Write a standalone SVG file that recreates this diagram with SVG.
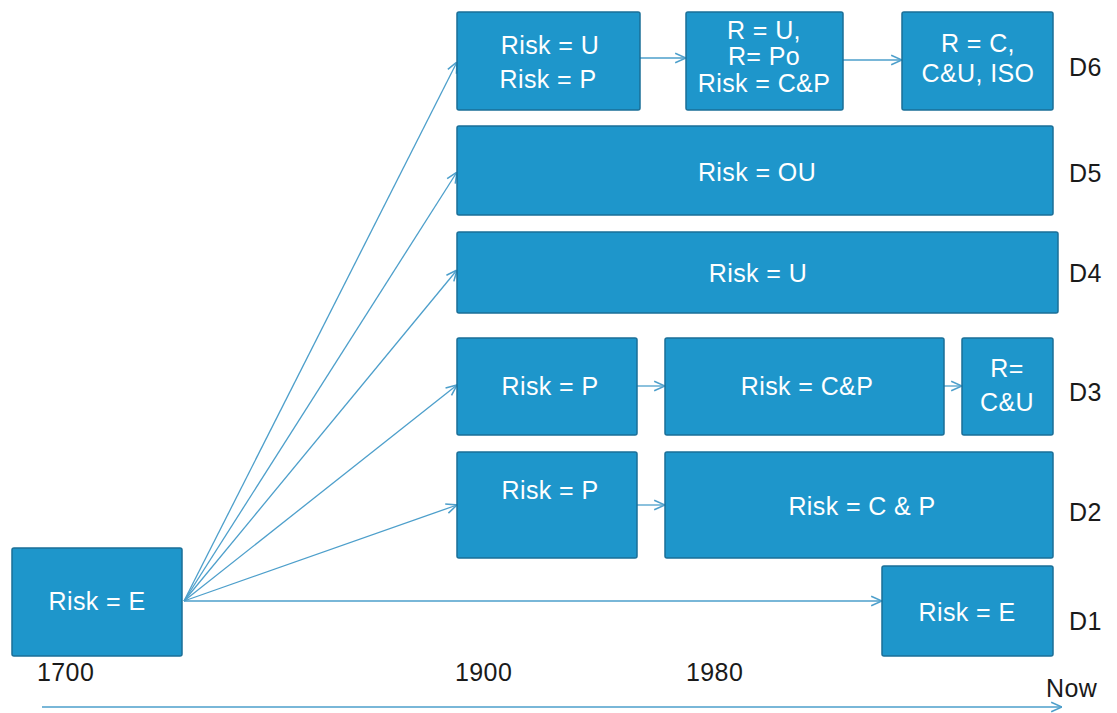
<svg xmlns="http://www.w3.org/2000/svg" width="1117" height="713" viewBox="0 0 1117 713">
<style>
.box{fill:#1e96cb;stroke:#1a6f98;stroke-width:1.5}
.t{font-family:"Liberation Sans",Arial,sans-serif;font-size:25px;fill:#ffffff;text-anchor:middle;letter-spacing:0.4px}
.l{font-family:"Liberation Sans",Arial,sans-serif;font-size:25px;fill:#1a1a1a;letter-spacing:0.4px}
.c{stroke:#4d9fcb;stroke-width:1.3;fill:none;marker-end:url(#ah)}
</style>
<defs>
<marker id="ah" viewBox="0 0 10 10" refX="10" refY="5" markerWidth="12" markerHeight="12" markerUnits="userSpaceOnUse" orient="auto">
<path d="M1,1 L10,5 L1,9" fill="none" stroke="#4d9fcb" stroke-width="1.3"/>
</marker>
</defs>
<rect width="1117" height="713" fill="#ffffff"/>
<g id="connectors">
<line class="c" x1="184" y1="601" x2="457" y2="62"/>
<line class="c" x1="184" y1="601" x2="457" y2="172"/>
<line class="c" x1="184" y1="601" x2="457" y2="270"/>
<line class="c" x1="184" y1="601" x2="457" y2="385"/>
<line class="c" x1="184" y1="601" x2="457" y2="505"/>
<line class="c" x1="184" y1="601" x2="882" y2="601"/>
<line class="c" x1="640" y1="58" x2="686" y2="58"/>
<line class="c" x1="843" y1="60" x2="902" y2="60"/>
<line class="c" x1="637" y1="386" x2="665" y2="386"/>
<line class="c" x1="944" y1="386" x2="962" y2="386"/>
<line class="c" x1="637" y1="505" x2="665" y2="505"/>
<line class="c" x1="42" y1="707" x2="1062" y2="707"/>
</g>
<g id="n0"><rect class="box" x="12" y="548" width="170" height="108" rx="2"/><text class="t" x="97" y="610">Risk = E</text></g>
<g id="d6a"><rect class="box" x="457" y="12" width="183" height="98" rx="2"/><text class="t" x="550" y="54">Risk = U</text><text class="t" x="548" y="88">Risk = P</text></g>
<g id="d6b"><rect class="box" x="686" y="12" width="157" height="98" rx="2"/><text class="t" x="764" y="39">R = U,</text><text class="t" x="764" y="65">R= Po</text><text class="t" x="764" y="92">Risk = C&amp;P</text></g>
<g id="d6c"><rect class="box" x="902" y="12" width="151" height="98" rx="2"/><text class="t" x="978" y="52">R = C,</text><text class="t" x="978" y="82">C&amp;U, ISO</text></g>
<g id="d5"><rect class="box" x="457" y="126" width="596" height="89" rx="2"/><text class="t" x="757" y="181">Risk = OU</text></g>
<g id="d4"><rect class="box" x="457" y="232" width="601" height="81" rx="2"/><text class="t" x="758" y="282">Risk = U</text></g>
<g id="d3a"><rect class="box" x="457" y="338" width="180" height="97" rx="2"/><text class="t" x="550" y="395">Risk = P</text></g>
<g id="d3b"><rect class="box" x="665" y="338" width="279" height="97" rx="2"/><text class="t" x="807" y="395">Risk = C&amp;P</text></g>
<g id="d3c"><rect class="box" x="962" y="338" width="91" height="97" rx="2"/><text class="t" x="1007" y="377">R=</text><text class="t" x="1007" y="411">C&amp;U</text></g>
<g id="d2a"><rect class="box" x="457" y="452" width="180" height="106" rx="2"/><text class="t" x="550" y="499">Risk = P</text></g>
<g id="d2b"><rect class="box" x="665" y="452" width="388" height="106" rx="2"/><text class="t" x="862" y="515">Risk = C &amp; P</text></g>
<g id="d1"><rect class="box" x="882" y="566" width="171" height="90" rx="2"/><text class="t" x="967" y="621">Risk = E</text></g>
<g id="labels">
<text class="l" x="1069" y="76">D6</text>
<text class="l" x="1069" y="182">D5</text>
<text class="l" x="1069" y="282">D4</text>
<text class="l" x="1069" y="401">D3</text>
<text class="l" x="1069" y="521">D2</text>
<text class="l" x="1069" y="630">D1</text>
<text class="l" x="37" y="681">1700</text>
<text class="l" x="455" y="681">1900</text>
<text class="l" x="686" y="681">1980</text>
<text class="l" x="1046" y="697">Now</text>
</g>
</svg>
